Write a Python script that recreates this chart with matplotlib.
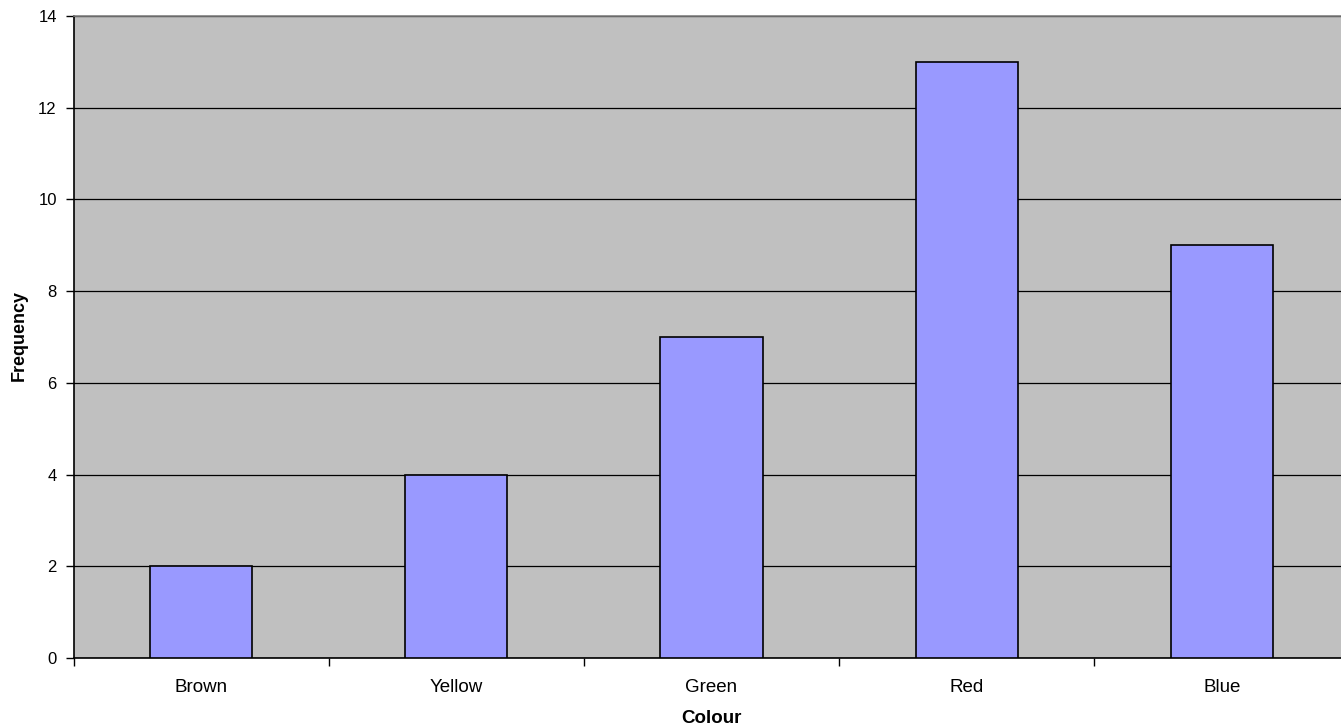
import matplotlib.pyplot as plt
import numpy as np

plt.rcParams['font.family'] = ['Liberation Sans', 'DejaVu Sans']

colours = ['Brown', 'Yellow', 'Green', 'Red', 'Blue']
frequency = [2, 4, 7, 13, 9]

fig = plt.figure(figsize=(13.41, 7.26), dpi=100)
# plot area runs a little past the right edge of the picture, as in the reference
ax = fig.add_axes([73.5 / 1341, 1 - 658 / 726, 1276 / 1341, (658 - 16) / 726])
ax.set_facecolor('#C0C0C0')

x = np.arange(len(colours))
ax.bar(x, frequency, width=0.4, color='#9999FF', edgecolor='black', linewidth=1.2, zorder=3)

ax.set_xlim(-0.5, len(colours) - 0.5)
ax.set_ylim(0, 14)
ax.set_yticks(range(0, 15, 2))
ax.yaxis.grid(True, color='black', linewidth=0.9, zorder=1)
ax.set_axisbelow(True)

# category labels centred, tick marks on the boundaries
ax.set_xticks(x)
ax.set_xticklabels(colours, fontsize=13.5)
ax.tick_params(axis='x', which='major', length=0, pad=15)
ax.set_xticks(np.arange(-0.5, len(colours) + 0.5, 1), minor=True)
ax.tick_params(axis='x', which='minor', length=6, width=1, direction='out')
ax.tick_params(axis='y', length=6, width=1, direction='out', labelsize=12, pad=6)

for s in ['left', 'bottom']:
    ax.spines[s].set_color('black')
    ax.spines[s].set_linewidth(1.2)
for s in ['top', 'right']:
    ax.spines[s].set_color('#808080')
    ax.spines[s].set_linewidth(1.2)

ax.set_xlabel('Colour', fontsize=13.5, fontweight='bold', labelpad=10)
ax.set_ylabel('Frequency', fontsize=13, fontweight='bold')
ax.yaxis.set_label_coords((28 - 73.5) / 1276, (658 - 335) / 642)

fig.savefig('out.png', dpi=100)
